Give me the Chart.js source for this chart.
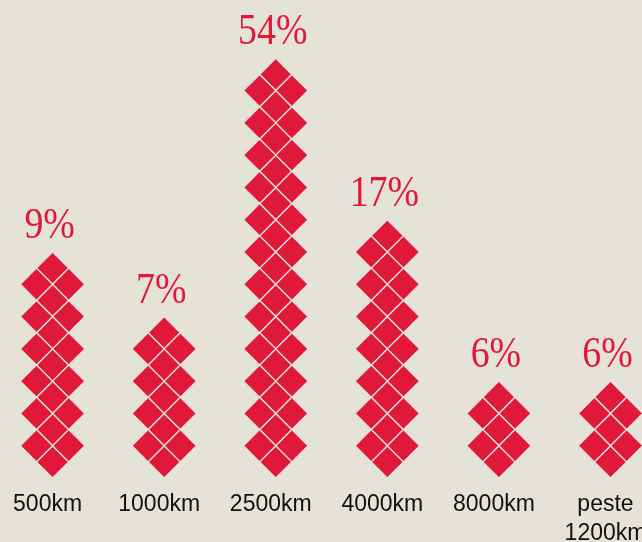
<!DOCTYPE html>
<html>
<head>
<meta charset="utf-8">
<script src="https://cdn.jsdelivr.net/npm/chart.js@4"></script>
<style>
  html, body { margin: 0; padding: 0; background: #e5e2d7; }
  canvas { display: block; }
</style>
</head>
<body>
<canvas id="chart" width="642" height="542"></canvas>
<script>
// Distance categories (multi-line label for the last one)
const categories = ['500km', '1000km', '2500km', '4000km', '8000km', ['peste', '1200km']];
// Share shown above each column, in percent
const shares = [9, 7, 54, 17, 6, 6];
// Height of each column, counted in rows of diamonds
const rows = [7, 5, 13, 8, 3, 3];

const RED = '#e0193a';
const BG = '#e5e2d7';

// Draws each bar as a stack of interleaved diamonds plus its labels
const diamondPlugin = {
    id: 'diamonds',
    afterDatasetsDraw(chart) {
        const ctx = chart.ctx;
        const x = chart.scales.x;
        const y = chart.scales.y;
        const base = y.getPixelForValue(0);

        function diamond(cx, cy, h) {
            ctx.beginPath();
            ctx.moveTo(cx, cy - h);
            ctx.lineTo(cx + h, cy);
            ctx.lineTo(cx, cy + h);
            ctx.lineTo(cx - h, cy);
            ctx.closePath();
            ctx.fill();
            ctx.stroke();
        }

        ctx.save();
        rows.forEach((n, i) => {
            const lx = x.getPixelForValue(i);
            const cx = lx + 5;
            const top = y.getPixelForValue(n);
            const u = (base - top) / n;
            const h = u / 2;

            ctx.fillStyle = RED;
            ctx.strokeStyle = BG;
            ctx.lineWidth = 1.3;
            for (let k = 0; k < n; k++) {
                diamond(cx, top + h + u * k, h);
            }
            for (let k = 0; k < n - 1; k++) {
                diamond(cx - h, top + u + u * k, h);
                diamond(cx + h, top + u + u * k, h);
            }

            // percentage above the column (narrowed to look like a didone face)
            ctx.save();
            ctx.fillStyle = RED;
            ctx.font = '44px "Liberation Serif", "DejaVu Serif", serif';
            ctx.textAlign = 'center';
            ctx.textBaseline = 'alphabetic';
            ctx.translate(lx + 2, top - 14);
            ctx.scale(0.86, 1);
            ctx.fillText(shares[i] + '%', 0, 0);
            ctx.restore();

            // category label below
            ctx.fillStyle = '#111111';
            ctx.font = '23px "Liberation Sans", Arial, sans-serif';
            ctx.textAlign = 'center';
            const lines = Array.isArray(categories[i]) ? categories[i] : [categories[i]];
            lines.forEach((t, j) => ctx.fillText(t, lx, 511 + j * 29));
        });
        ctx.restore();
    }
};

new Chart(document.getElementById('chart').getContext('2d'), {
    type: 'bar',
    data: {
        labels: categories,
        datasets: [{
            label: 'Share',
            data: rows,
            backgroundColor: 'rgba(0,0,0,0)',
            borderWidth: 0
        }]
    },
    options: {
        responsive: false,
        animation: false,
        layout: { padding: { left: 47.6, right: 36.5, top: 26, bottom: 64 } },
        plugins: {
            legend: { display: false },
            tooltip: { enabled: false }
        },
        scales: {
            x: { display: false, offset: false },
            y: { display: false, min: 0, max: 14 }
        }
    },
    plugins: [diamondPlugin]
});
</script>
</body>
</html>
